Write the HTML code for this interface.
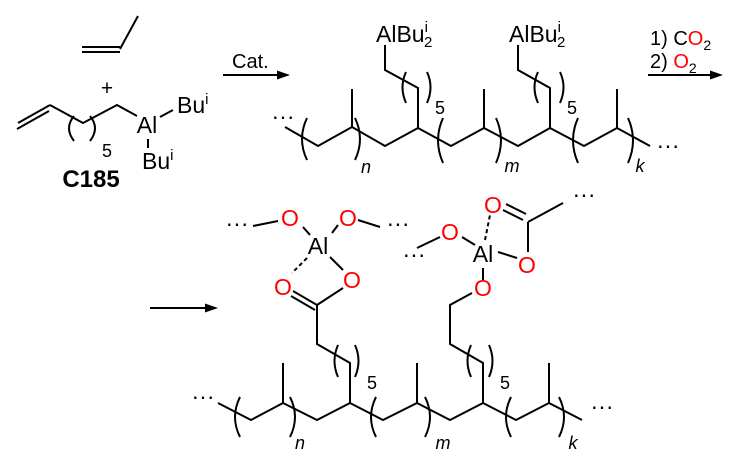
<!DOCTYPE html>
<html><head><meta charset="utf-8"><style>
html,body{margin:0;padding:0;background:#fff;}
svg{display:block;}
text{font-family:"Liberation Sans",sans-serif;fill:#000;}
.r{fill:#f00;}
</style></head><body>
<svg width="730" height="467" viewBox="0 0 730 467" xmlns="http://www.w3.org/2000/svg">
<g stroke="#000" stroke-width="2" fill="none" stroke-linecap="butt">
<line x1="82" y1="47" x2="120" y2="47"/><line x1="82" y1="52" x2="120" y2="52"/>
<line x1="120" y1="49" x2="138" y2="16"/>
<line x1="18" y1="123" x2="50" y2="105"/><line x1="17" y1="129" x2="49" y2="111"/>
<polyline points="50,105 83,123 117,105 137,116"/>
<line x1="160" y1="117" x2="173" y2="110"/>
<line x1="148" y1="139" x2="148" y2="148"/>
<path d="M74,116 Q64,128 74,141"/><path d="M90,116 Q100,128 90,141"/>
<line x1="223" y1="75" x2="280" y2="75"/>
<line x1="648" y1="75" x2="713" y2="75"/>
<line x1="150" y1="308" x2="208" y2="308"/>
<polyline points="285,127 318,146 352,127 385,146 418,128 451,146 484,128 518,146 550,128 584,146 617,128 650,146"/>
<line x1="352" y1="127" x2="352" y2="89"/>
<line x1="484" y1="128" x2="484" y2="89"/>
<line x1="617" y1="128" x2="617" y2="89"/>
<polyline points="418,128 418,88 385,70 385,45"/>
<polyline points="550,128 550,88 518,70 518,45"/>
<path d="M307,118 Q297,139 307,160"/><path d="M355,118 Q365,139 355,160"/>
<path d="M443,118 Q433,140 443,163"/><path d="M496,118 Q506,140 496,163"/>
<path d="M578,118 Q568,140 578,163"/><path d="M628,118 Q638,140 628,163"/>
<path d="M406,72 Q399,87 406,103"/><path d="M427,72 Q434,87 427,103"/>
<path d="M538,72 Q531,87 538,103"/><path d="M560,72 Q567,87 560,103"/>
<polyline points="218,403 251,420 283,403 317,420 350,403 383,420 417,403 450,420 483,403 516,420 549,403 582,420"/>
<line x1="283" y1="403" x2="283" y2="363"/>
<line x1="417" y1="403" x2="417" y2="363"/>
<line x1="549" y1="403" x2="549" y2="363"/>
<polyline points="350,403 350,363 317,344 317,305"/>
<polyline points="483,403 483,363 450,344 450,305 472,293"/>
<path d="M240,397 Q230,417 240,437"/><path d="M290,397 Q300,417 290,437"/>
<path d="M376,397 Q366,417 376,437"/><path d="M425,397 Q435,417 425,437"/>
<path d="M511,397 Q501,417 511,437"/><path d="M559,397 Q569,417 559,437"/>
<path d="M338,345 Q331,361 338,377"/><path d="M355,345 Q362,361 355,377"/>
<path d="M471,345 Q464,361 471,377"/><path d="M489,345 Q496,361 489,377"/>
<line x1="317" y1="305" x2="293" y2="291"/><line x1="315" y1="310" x2="291" y2="296"/>
<line x1="317" y1="305" x2="343" y2="288"/>
<line x1="330" y1="257" x2="343" y2="270"/>
<line x1="307" y1="258" x2="292" y2="273" stroke-dasharray="4,3"/>
<line x1="303" y1="227" x2="310" y2="235"/>
<line x1="332" y1="233" x2="338" y2="225"/>
<line x1="253" y1="226" x2="278" y2="221"/>
<line x1="358" y1="220" x2="380" y2="227"/>
<line x1="483" y1="280" x2="483" y2="268"/>
<line x1="462" y1="237" x2="475" y2="245"/>
<line x1="440" y1="237" x2="417" y2="248"/>
<line x1="498" y1="252" x2="517" y2="258"/>
<line x1="528" y1="252" x2="528" y2="222"/>
<line x1="523" y1="220" x2="503" y2="210"/><line x1="526" y1="214" x2="506" y2="204"/>
<line x1="485" y1="240" x2="490" y2="215" stroke-dasharray="4,3"/>
<line x1="528" y1="222" x2="563" y2="203"/>
</g>
<polygon points="290,75 277,70.5 277,79.5" fill="#000"/>
<polygon points="723,75 710,70.5 710,79.5" fill="#000"/>
<polygon points="218,308 205,303.5 205,312.5" fill="#000"/>
<g font-size="23">
<text x="107" y="95" font-size="21" text-anchor="middle">+</text>
<text x="147" y="133" text-anchor="middle">Al</text>
<text x="177" y="113">Bu<tspan font-size="15" dy="-9">i</tspan></text>
<text x="142" y="169">Bu<tspan font-size="15" dy="-9">i</tspan></text>
<text x="107" y="157" font-size="18" text-anchor="middle">5</text>
<text x="91" y="187" font-weight="bold" font-size="24" text-anchor="middle">C185</text>
<text x="232" y="68" font-size="20">Cat.</text>
<text x="283" y="124" text-anchor="middle">···</text>
<text x="376" y="42">AlBu<tspan font-size="15" dy="-10">i</tspan><tspan font-size="15" dx="-4" dy="15">2</tspan></text>
<text x="509" y="42">AlBu<tspan font-size="15" dy="-10">i</tspan><tspan font-size="15" dx="-4" dy="15">2</tspan></text>
<text x="440" y="114" font-size="18" text-anchor="middle">5</text>
<text x="572" y="114" font-size="18" text-anchor="middle">5</text>
<text x="366" y="173" font-size="18" font-style="italic" text-anchor="middle">n</text>
<text x="512" y="172" font-size="18" font-style="italic" text-anchor="middle">m</text>
<text x="640" y="172" font-size="18" font-style="italic" text-anchor="middle">k</text>
<text x="668" y="153" text-anchor="middle">···</text>
<text x="650" y="45" font-size="20">1) C<tspan class="r">O</tspan><tspan font-size="14" dy="5">2</tspan></text>
<text x="650" y="68" font-size="20">2) <tspan class="r">O</tspan><tspan font-size="14" dy="5">2</tspan></text>
<text x="203" y="404" text-anchor="middle">···</text>
<text x="602" y="414" text-anchor="middle">···</text>
<text x="372" y="389" font-size="18" text-anchor="middle">5</text>
<text x="505" y="389" font-size="18" text-anchor="middle">5</text>
<text x="300" y="449" font-size="18" font-style="italic" text-anchor="middle">n</text>
<text x="443" y="449" font-size="18" font-style="italic" text-anchor="middle">m</text>
<text x="573" y="449" font-size="18" font-style="italic" text-anchor="middle">k</text>
<text x="318" y="254" text-anchor="middle">Al</text>
<text x="290" y="226" class="r" text-anchor="middle">O</text>
<text x="348" y="226" class="r" text-anchor="middle">O</text>
<text x="283" y="295" class="r" text-anchor="middle">O</text>
<text x="352" y="288" class="r" text-anchor="middle">O</text>
<text x="237" y="231" text-anchor="middle">···</text>
<text x="398" y="231" text-anchor="middle">···</text>
<text x="483" y="262" text-anchor="middle">Al</text>
<text x="450" y="240" class="r" text-anchor="middle">O</text>
<text x="527" y="273" class="r" text-anchor="middle">O</text>
<text x="483" y="296" class="r" text-anchor="middle">O</text>
<text x="493" y="213" class="r" text-anchor="middle">O</text>
<text x="414" y="262" text-anchor="middle">···</text>
<text x="584" y="202" text-anchor="middle">···</text>
</g>
</svg>
</body></html>
